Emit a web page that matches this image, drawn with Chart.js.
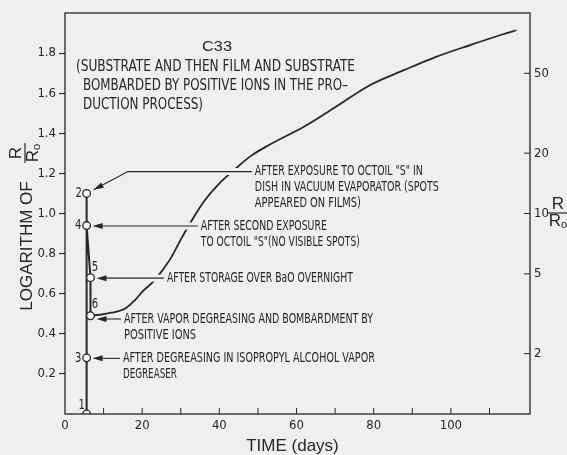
<!DOCTYPE html>
<html><head><meta charset="utf-8">
<script src="https://cdn.jsdelivr.net/npm/chart.js@4.4.1/dist/chart.umd.min.js"></script>
<style>html,body{margin:0;padding:0;background:#efefef;}canvas{display:block;}</style>
</head><body>
<canvas id="c" width="567" height="455"></canvas>
<script>
// ---- data ----
const seqDays   = [5.6, 5.6, 5.6, 5.6, 6.6, 6.6];
const seqLog    = [0, 1.10, 0.28, 0.94, 0.68, 0.49];
const seqLabels = ['1', '2', '3', '4', '5', '6'];
const curveDays = [6.6, 9, 12, 15.5, 18, 20.3, 22.9, 25, 27.5, 30, 33, 36, 40, 44, 48, 53, 62, 70, 79, 88, 96, 105, 113.5, 117];
const curveLog  = [0.49, 0.495, 0.505, 0.525, 0.565, 0.615, 0.66, 0.71, 0.78, 0.87, 0.97, 1.06, 1.15, 1.22, 1.285, 1.343, 1.434, 1.53, 1.64, 1.716, 1.78, 1.84, 1.894, 1.914];
const xTickLabels = [0, 20, 40, 60, 80, 100];
const xMinorTicks = [10, 20, 30, 40, 50, 60, 70, 80, 90, 100, 110];
const yTickLabels = [0.2, 0.4, 0.6, 0.8, 1.0, 1.2, 1.4, 1.6, 1.8];
const ratioTickLabels = [2, 5, 10, 20, 50];
const titleLines = ['C33', '(SUBSTRATE AND THEN FILM AND SUBSTRATE', 'BOMBARDED BY POSITIVE IONS IN THE PRO\u2013', 'DUCTION PROCESS)'];
const noteTexts = [
  ['AFTER EXPOSURE TO OCTOIL "S" IN', 'DISH IN VACUUM EVAPORATOR (SPOTS', 'APPEARED ON FILMS)'],
  ['AFTER SECOND EXPOSURE', 'TO OCTOIL "S"(NO VISIBLE SPOTS)'],
  ['AFTER STORAGE OVER BaO OVERNIGHT'],
  ['AFTER VAPOR DEGREASING AND BOMBARDMENT BY', 'POSITIVE IONS'],
  ['AFTER DEGREASING IN ISOPROPYL ALCOHOL VAPOR', 'DEGREASER']
];
const notePoints = [1, 3, 4, 5, 2];

// ---- styling / layout ----
const INK = '#262626';
const BG = '#efefef';
const NARROW = '"DejaVu Sans Condensed", "Liberation Sans Narrow", "DejaVu Sans", sans-serif';
const SANS = '"Liberation Sans", Arial, sans-serif';
const noteLayout = [
  {tx: 49.2, ty: 1.209, elbow: 16.3, halo: true, widths: [168, 184, 106]},
  {tx: 35.2, ty: null, halo: true, widths: [126, 159]},
  {tx: 26.4, ty: null, halo: true, widths: [186]},
  {tx: 15.3, ty: 0.474, halo: false, widths: [249, 72]},
  {tx: 15.0, ty: null, halo: false, widths: [252, 54]}
];
const titleLayout = [
  {x: 202, y: 47, w: 30, font: '15px ' + SANS},
  {x: 76, y: 66.5, w: 279, font: '16px ' + NARROW},
  {x: 83, y: 86, w: 265, font: '16px ' + NARROW},
  {x: 83, y: 105, w: 120, font: '16px ' + NARROW}
];
const labelOffsets = [[-5, -9], [-8, 0], [-8.5, 0], [-8.5, 0], [4.5, -10], [4.5, -11]];

function txt(ctx, s, x, y, font, sx, align) {
  ctx.save();
  ctx.font = font;
  ctx.textBaseline = 'middle';
  ctx.textAlign = align || 'left';
  ctx.translate(x, y);
  ctx.scale(sx, 1);
  ctx.fillText(s, 0, 0);
  ctx.restore();
}
function txtFit(ctx, s, x, y, font, width) {
  ctx.save();
  ctx.font = font;
  const w = ctx.measureText(s).width;
  ctx.restore();
  txt(ctx, s, x, y, font, width / w);
}
function arrowHead(ctx, fx, fy, tx, ty) {
  const a = Math.atan2(ty - fy, tx - fx), L = 10, W = 3;
  ctx.beginPath();
  ctx.moveTo(tx, ty);
  ctx.lineTo(tx - L * Math.cos(a) + W * Math.sin(a), ty - L * Math.sin(a) - W * Math.cos(a));
  ctx.lineTo(tx - L * Math.cos(a) - W * Math.sin(a), ty - L * Math.sin(a) + W * Math.cos(a));
  ctx.closePath();
  ctx.fill();
}
function fraction(ctx, cx, cy, rot) {
  ctx.save();
  ctx.translate(cx, cy);
  ctx.rotate(rot);
  ctx.fillStyle = INK; ctx.strokeStyle = INK;
  ctx.font = '17px ' + SANS;
  ctx.textAlign = 'center'; ctx.textBaseline = 'middle';
  ctx.fillText('R', 0, -8.5);
  ctx.fillText('R', -3, 8.5);
  ctx.font = '11px ' + SANS;
  ctx.fillText('o', 6, 12);
  ctx.lineWidth = 1.2;
  ctx.beginPath(); ctx.moveTo(-10, 0); ctx.lineTo(10, 0); ctx.stroke();
  ctx.restore();
}

const decor = {
  id: 'decor',
  afterDatasetsDraw(chart) {
    const ctx = chart.ctx, xs = chart.scales.x, ys = chart.scales.y, a = chart.chartArea;
    ctx.save();
    ctx.strokeStyle = INK; ctx.fillStyle = INK;
    // frame
    ctx.lineWidth = 1.3;
    ctx.strokeRect(a.left, a.top, a.right - a.left, a.bottom - a.top);
    // inward x ticks and inward right-axis ticks
    ctx.lineWidth = 1;
    ctx.beginPath();
    xMinorTicks.forEach(v => { const p = xs.getPixelForValue(v); ctx.moveTo(p, a.bottom); ctx.lineTo(p, a.bottom - 6); });
    ratioTickLabels.forEach(v => { const p = ys.getPixelForValue(Math.log10(v)); ctx.moveTo(a.right, p); ctx.lineTo(a.right - 6, p); });
    ctx.stroke();

    // annotations with leader arrows
    noteTexts.forEach((lines, i) => {
      const L = noteLayout[i], pi = notePoints[i];
      const px = xs.getPixelForValue(seqDays[pi]), py = ys.getPixelForValue(seqLog[pi]);
      const tX = xs.getPixelForValue(L.tx);
      const tY = L.ty === null ? py + 0.5 : ys.getPixelForValue(L.ty);
      const lineStart = tX - 3;
      let tipX, tipY, fromX, fromY;
      if (L.elbow !== undefined) {
        const ex = xs.getPixelForValue(L.elbow);
        const ang = Math.atan2(tY - py, ex - px);
        tipX = px + 8 * Math.cos(ang); tipY = py + 8 * Math.sin(ang);
        fromX = ex; fromY = tY;
        if (L.halo) { ctx.save(); ctx.strokeStyle = BG; ctx.lineWidth = 7; ctx.beginPath(); ctx.moveTo(lineStart, tY); ctx.lineTo(ex + 4, tY); ctx.stroke(); ctx.restore(); }
        ctx.lineWidth = 1.1;
        ctx.beginPath(); ctx.moveTo(lineStart, tY); ctx.lineTo(ex, tY); ctx.lineTo(tipX, tipY); ctx.stroke();
      } else {
        tipX = px + 6; tipY = tY;
        fromX = lineStart; fromY = tY;
        if (L.halo) { ctx.save(); ctx.strokeStyle = BG; ctx.lineWidth = 7; ctx.beginPath(); ctx.moveTo(lineStart, tY); ctx.lineTo(tipX + 14, tY); ctx.stroke(); ctx.restore(); }
        ctx.lineWidth = 1.1;
        ctx.beginPath(); ctx.moveTo(lineStart, tY); ctx.lineTo(tipX + 5, tY); ctx.stroke();
      }
      arrowHead(ctx, fromX, fromY, tipX, tipY);
      lines.forEach((s, k) => txtFit(ctx, s, tX, tY + k * 16, '14px ' + NARROW, L.widths[k]));
    });

    // point labels
    seqLabels.forEach((s, i) => {
      const px = xs.getPixelForValue(seqDays[i]), py = ys.getPixelForValue(seqLog[i]);
      txt(ctx, s, px + labelOffsets[i][0], py + labelOffsets[i][1], '14px ' + NARROW, 0.8, 'center');
    });

    // title block
    titleLines.forEach((s, i) => { const T = titleLayout[i]; txtFit(ctx, s, T.x, T.y, T.font, T.w); });

    // axis titles
    txt(ctx, 'TIME (days)', (a.left + a.right) / 2 - 5, 446.5, '17px ' + SANS, 1, 'center');
    ctx.save();
    ctx.translate(27, 246);
    ctx.rotate(-Math.PI / 2);
    txt(ctx, 'LOGARITHM OF', 0, 0, '17px ' + SANS, 1, 'center');
    ctx.restore();
    fraction(ctx, 25, 153, -Math.PI / 2);
    fraction(ctx, 558, 213, 0);
    ctx.restore();
  }
};

const tickFont = {family: NARROW, size: 13};
new Chart(document.getElementById('c'), {
  type: 'scatter',
  data: {
    datasets: [
      {data: seqDays.map((d, i) => ({x: d, y: seqLog[i]})), showLine: false, pointRadius: 3.8,
       pointBackgroundColor: '#f8f8f8', pointBorderColor: INK, pointBorderWidth: 1.3},
      {data: seqDays.map((d, i) => ({x: d, y: seqLog[i]})), showLine: true, pointRadius: 0,
       borderColor: INK, borderWidth: 2},
      {data: curveDays.map((d, i) => ({x: d, y: curveLog[i]})), showLine: true, pointRadius: 0,
       borderColor: INK, borderWidth: 1.8, cubicInterpolationMode: 'monotone'}
    ]
  },
  options: {
    responsive: false, animation: false, devicePixelRatio: 1,
    layout: {padding: {top: 13, left: 0, right: 0, bottom: 0}},
    plugins: {legend: {display: false}, tooltip: {enabled: false}},
    scales: {
      x: {
        type: 'linear', min: 0, max: 120.5, position: 'bottom',
        afterBuildTicks: ax => { ax.ticks = xTickLabels.map(v => ({value: v})); },
        afterFit: ax => { ax.height = 41; },
        grid: {display: false, drawTicks: false, tickLength: 0}, border: {display: false},
        ticks: {color: INK, font: tickFont, padding: 4, maxRotation: 0, autoSkip: false, callback: v => String(v)}
      },
      y: {
        type: 'linear', min: 0, max: 2.0, position: 'left',
        afterBuildTicks: ax => { ax.ticks = yTickLabels.map(v => ({value: v})); },
        afterFit: ax => { ax.width = 65; },
        grid: {display: true, drawOnChartArea: false, drawTicks: true, tickLength: 6, color: INK, lineWidth: 1.1},
        border: {display: false},
        ticks: {color: INK, font: tickFont, padding: 3, autoSkip: false, callback: v => v.toFixed(1)}
      },
      y2: {
        type: 'linear', min: 0, max: 2.0, position: 'right',
        afterBuildTicks: ax => { ax.ticks = ratioTickLabels.map(v => ({value: Math.log10(v)})); },
        afterFit: ax => { ax.width = 37; },
        grid: {display: false, drawTicks: false, tickLength: 0}, border: {display: false},
        ticks: {color: INK, font: tickFont, padding: 4, autoSkip: false, callback: v => String(Math.round(Math.pow(10, v)))}
      }
    }
  },
  plugins: [decor]
});
</script>
</body></html>
